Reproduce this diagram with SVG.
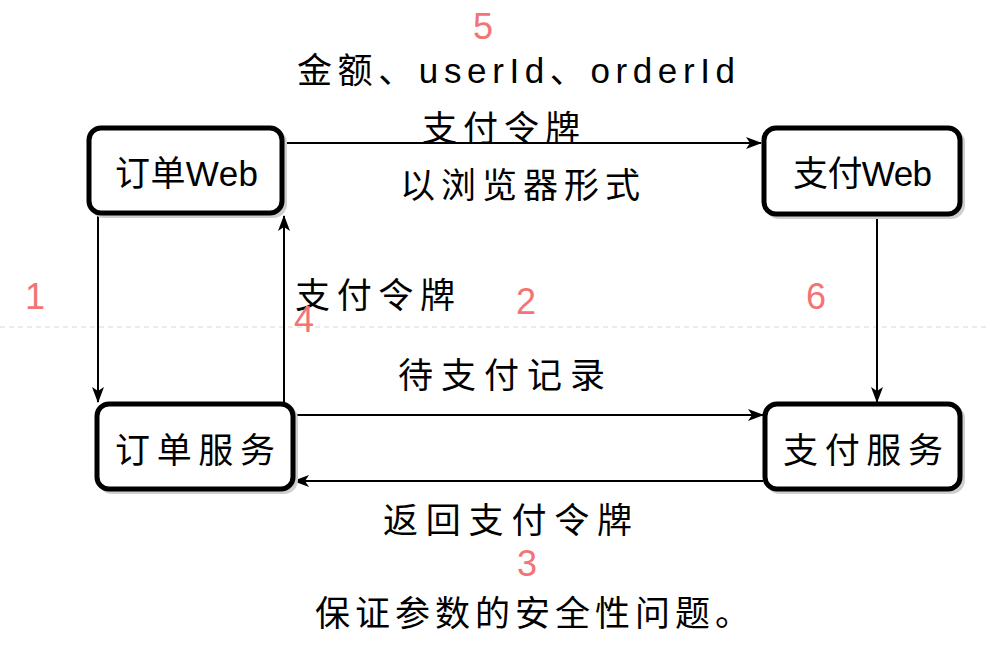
<svg xmlns="http://www.w3.org/2000/svg" width="986" height="672" viewBox="0 0 986 672">
<style>
.box{fill:#fff;stroke:#000;stroke-width:5}
.shadow{fill:none;stroke:#cfcfcf;stroke-width:4}
.t{font-family:"Liberation Sans","Noto Sans CJK SC",sans-serif;font-size:35px;fill:#000;dominant-baseline:central}
.n{font-family:"Liberation Sans",Arial,sans-serif;font-size:36px;fill:#f27474;text-anchor:middle;dominant-baseline:central}
.c{stroke:#000;stroke-width:2;fill:none;marker-end:url(#ah)}
</style>
<defs>
<marker id="ah" markerUnits="userSpaceOnUse" markerWidth="16" markerHeight="12" refX="15" refY="6" orient="auto">
<path d="M0,0 L16,6 L0,12 L4,6 Z" fill="#000"/>
</marker>
</defs>
<rect width="986" height="672" fill="#fff"/>
<line x1="0" y1="327" x2="986" y2="327" stroke="#d8d8d8" stroke-width="1.2" stroke-dasharray="5 4"/>
<g id="connectors">
<line class="c" x1="287" y1="143" x2="761" y2="143"/>
<line class="c" x1="98" y1="216" x2="98" y2="402"/>
<line class="c" x1="284" y1="402" x2="284" y2="216"/>
<line class="c" x1="295" y1="415" x2="763" y2="415"/>
<line class="c" x1="763" y1="481" x2="294" y2="481"/>
<line class="c" x1="877" y1="217" x2="877" y2="402"/>
</g>
<g id="node-order-web">
<rect class="shadow" x="92" y="131" width="193" height="85" rx="12"/>
<rect class="box" x="89" y="128" width="193" height="85" rx="12"/>
<text class="t" x="115" y="173" textLength="143">订单Web</text>
</g>
<g id="node-pay-web">
<rect class="shadow" x="767" y="131" width="196" height="86" rx="12"/>
<rect class="box" x="764" y="128" width="196" height="86" rx="12"/>
<text class="t" x="793" y="173" textLength="139">支付Web</text>
</g>
<g id="node-order-service">
<rect class="shadow" x="100" y="407" width="196" height="85" rx="12"/>
<rect class="box" x="97" y="404" width="196" height="85" rx="12"/>
<text class="t" x="115" y="450" textLength="160">订单服务</text>
</g>
<g id="node-pay-service">
<rect class="shadow" x="768" y="407" width="195" height="85" rx="12"/>
<rect class="box" x="765" y="404" width="195" height="85" rx="12"/>
<text class="t" x="783" y="450" textLength="160">支付服务</text>
</g>
<g id="labels">
<text class="n" x="483" y="26">5</text>
<text class="t" x="297" y="70" textLength="438">金额、userId、orderId</text>
<text class="t" x="422" y="128" textLength="158">支付令牌</text>
<text class="t" x="400" y="185" textLength="240">以浏览器形式</text>
<text class="n" x="35" y="296">1</text>
<text class="t" x="295" y="295" textLength="160">支付令牌</text>
<text class="n" x="304" y="319">4</text>
<text class="n" x="526" y="301">2</text>
<text class="n" x="816" y="296">6</text>
<text class="t" x="398" y="375" textLength="207">待支付记录</text>
<text class="t" x="383" y="520" textLength="249">返回支付令牌</text>
<text class="n" x="527" y="563">3</text>
<text class="t" x="315" y="613" textLength="435">保证参数的安全性问题。</text>
</g>
</svg>
